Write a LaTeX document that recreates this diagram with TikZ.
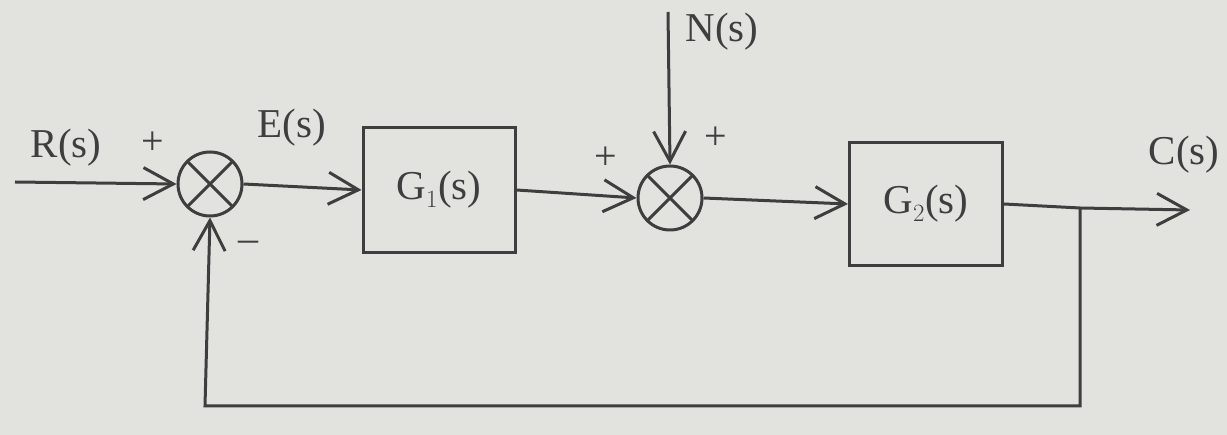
\documentclass[tikz,border=0pt]{standalone}
\usepackage{fontspec}
\setmainfont{Liberation Serif}
\usetikzlibrary{arrows.meta}
\definecolor{paper}{RGB}{226,227,223}
\definecolor{ink}{RGB}{62,62,62}
\begin{document}
\begin{tikzpicture}[x=1pt,y=-1pt,
  line width=3pt, draw=ink, text=ink,
  every node/.style={font=\fontsize{41}{46}\selectfont},
  block/.style={draw=ink, line width=3pt, rectangle, inner sep=0pt},
  sumj/.style={draw=ink, line width=3pt, circle, minimum size=64pt, inner sep=0pt,
    path picture={\draw[ink, line width=3pt] (path picture bounding box.north west) -- (path picture bounding box.south east)
      (path picture bounding box.north east) -- (path picture bounding box.south west);}},
  sig/.style={draw=ink, -{Straight Barb[length=30pt,width=32pt,line width=3pt]}},
  lbl/.style={text=ink},
  sgn/.style={text=ink, font=\fontsize{40}{44}\selectfont}]
\fill[paper] (0,0) rectangle (1227,435);
\useasboundingbox (0,0) rectangle (1227,435);

\node[sumj] (s1) at (210,184) {};
\node[sumj] (s2) at (670,198) {};
\node[block, minimum width=152pt, minimum height=125pt] (g1) at (439,190) {G$_1$(s)};
\node[block, minimum width=153pt, minimum height=123pt] (g2) at (926,204) {G$_2$(s)};

\coordinate (rin) at (15,182);
\coordinate (nin) at (668,12);
\coordinate (branch) at (1080,208);
\coordinate (cout) at (1190,210);
\coordinate (fb1) at (1080,406);
\coordinate (fb2) at (205,406);

\draw[sig] (rin) -- (s1.west);
\draw[sig] (s1.east) -- (g1.west);
\draw[sig] (g1.east) -- (s2.west);
\draw[sig] (nin) -- (s2.north);
\draw[sig] (s2.east) -- (g2.west);
\draw (g2.east) -- (branch);
\draw[sig] (branch) -- (cout);
\draw[sig] (branch) -- (fb1) -- (fb2) -- (s1.south);

\node[lbl] (rl) at (66,148) {R(s)};
\node[sgn] (p1) at (153,143) {+};
\node[lbl] (el) at (292,128) {E(s)};
\node[sgn] (m1) at (248,246) {--};
\node[sgn] (p2) at (606,158) {+};
\node[sgn] (p3) at (716,138) {+};
\node[lbl] (nl) at (722,32) {N(s)};
\node[lbl] (cl) at (1184,155) {C(s)};
\end{tikzpicture}
\end{document}
